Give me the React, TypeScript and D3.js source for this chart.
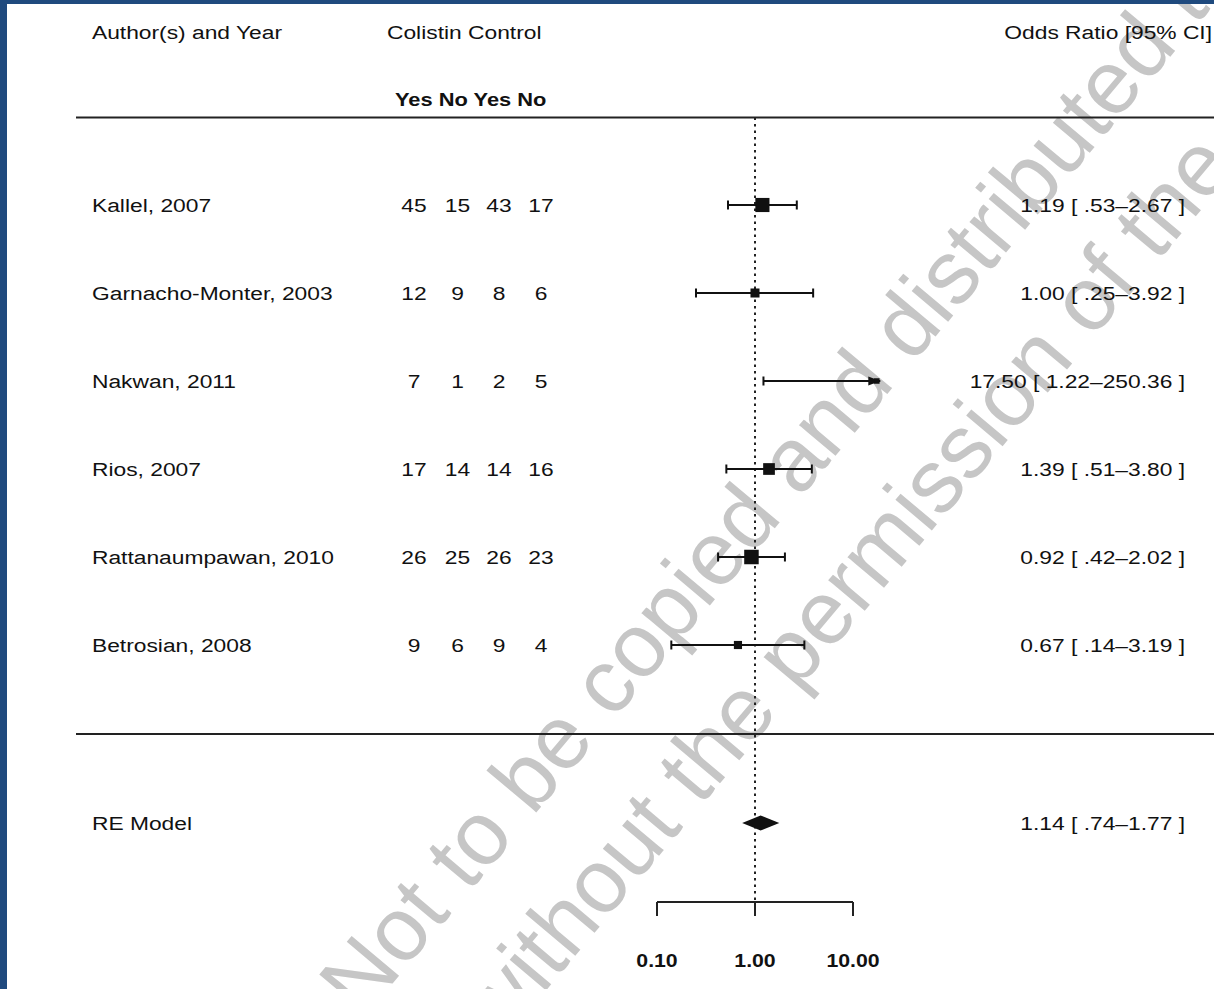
import React from "react";
import * as d3 from "d3";

// Study-level data: colistin vs control, outcome counts and odds ratios
const studies = [
  "Kallel, 2007",
  "Garnacho-Monter, 2003",
  "Nakwan, 2011",
  "Rios, 2007",
  "Rattanaumpawan, 2010",
  "Betrosian, 2008",
];
const colistinYes = [45, 12, 7, 17, 26, 9];
const colistinNo = [15, 9, 1, 14, 25, 6];
const controlYes = [43, 8, 2, 14, 26, 9];
const controlNo = [17, 6, 5, 16, 23, 4];
const oddsRatio = [1.19, 1.0, 17.5, 1.39, 0.92, 0.67];
const ciLower = [0.53, 0.25, 1.22, 0.51, 0.42, 0.14];
const ciUpper = [2.67, 3.92, 250.36, 3.8, 2.02, 3.19];

// Random-effects pooled estimate
const pooledLabel = "RE Model";
const pooledEstimate = 1.14;
const pooledLower = 0.74;
const pooledUpper = 1.77;

// Axis
const axisTicks = [0.1, 1, 10];
const axisTickLabels = ["0.10", "1.00", "10.00"];
const countHeaders = ["Yes", "No", "Yes", "No"];
const ciDrawMax = 19; // intervals beyond this are truncated with an arrow

const W = 1214;
const H = 989;
const FONT = "'Liberation Sans', Arial, Helvetica, sans-serif";
const FS = 19;
const SX = 1.2;

function T({ x, y, anchor = "start", weight = 400, size = FS, sx = SX, fill = "#111", children }: any) {
  return (
    <text
      transform={`translate(${x},${y}) scale(${sx},1)`}
      textAnchor={anchor}
      fontWeight={weight}
      fontSize={size}
      fontFamily={FONT}
      fill={fill}
    >
      {children}
    </text>
  );
}

const fmtEst = d3.format(".2f");
const fmtBound = (v: number) => d3.format(".2f")(v).replace(/^0\./, ".");

export default function App() {
  const x = d3.scaleLog().domain([0.1, 10]).range([657, 853]);
  const y = d3.scaleLinear().domain([0, studies.length - 1]).range([205, 645]);
  const yPooled = 823;
  const yTopRule = 117.5;
  const yMidRule = 734;
  const yAxis = 902;

  // square size from inverse standard error (derived from the CI)
  const z = 1.959964;
  const invSe = oddsRatio.map((_, i) => (2 * z) / (Math.log(ciUpper[i]) - Math.log(ciLower[i])));
  const wMin = d3.min(invSe) as number;
  const wMax = d3.max(invSe) as number;
  const size = d3.scaleLinear().domain([wMin, wMax]).range([5.5, 14.5]);

  const countCols = [414, 457.5, 499, 541];
  const countSeries = [colistinYes, colistinNo, controlYes, controlNo];
  const annX = 1185;
  const ink = "#111";
  const xMaxPx = x(ciDrawMax);

  return (
    <svg
      width={W}
      height={H}
      viewBox={`0 0 ${W} ${H}`}
      style={{ position: "absolute", left: 0, top: 0, background: "#fff" }}
    >
      <rect x={0} y={0} width={W} height={H} fill="#fff" />

      {/* diagonal notice in the background */}
      <g transform="translate(362,1020) rotate(-50)" fill="#c6c6c6" fontFamily={FONT} fontSize={90}>
        <text x={0} y={0}>Not to be copied and distributed to</text>
        <text x={70} y={122}>without the permission of the</text>
      </g>

      {/* frame */}
      <rect x={0} y={0} width={7} height={H} fill="#1f4a7e" />
      <rect x={0} y={0} width={W} height={4} fill="#1f4a7e" />

      {/* headers */}
      <T x={92} y={39}>Author(s) and Year</T>
      <T x={387} y={39}>Colistin Control</T>
      <T x={1212} y={39} anchor="end">Odds Ratio [95% CI]</T>
      <T x={395} y={105.5} weight={700} sx={1.15}>{countHeaders.join(" ")}</T>

      {/* rules */}
      <line x1={76} x2={W} y1={yTopRule} y2={yTopRule} stroke="#222" strokeWidth={2} />
      <line x1={76} x2={W} y1={yMidRule} y2={yMidRule} stroke="#222" strokeWidth={2} />

      {/* reference line at OR = 1 */}
      <line
        x1={x(1)}
        x2={x(1)}
        y1={yTopRule}
        y2={yAxis}
        stroke="#222"
        strokeWidth={2}
        strokeDasharray="2.5 4"
      />

      {/* study rows */}
      {studies.map((s, i) => {
        const yy = y(i);
        const lo = x(ciLower[i]);
        const hiVal = Math.min(ciUpper[i], ciDrawMax);
        const hi = x(hiVal);
        const truncated = ciUpper[i] > ciDrawMax;
        const sz = size(invSe[i]);
        const cx = x(oddsRatio[i]);
        return (
          <g key={s}>
            <T x={92} y={yy + 7}>{s}</T>
            {countSeries.map((arr, c) => (
              <T key={c} x={countCols[c]} y={yy + 7} anchor="middle">{arr[i]}</T>
            ))}
            <T x={annX} y={yy + 7} anchor="end">
              {`${fmtEst(oddsRatio[i])} [ ${fmtBound(ciLower[i])}\u2013${fmtBound(ciUpper[i])} ]`}
            </T>
            <line x1={lo} x2={hi} y1={yy} y2={yy} stroke={ink} strokeWidth={2.2} />
            <line x1={lo} x2={lo} y1={yy - 4.5} y2={yy + 4.5} stroke={ink} strokeWidth={2} />
            {truncated ? (
              <path d={`M${hi - 12},${yy - 4.5} L${hi},${yy} L${hi - 12},${yy + 4.5} Z`} fill={ink} />
            ) : (
              <line x1={hi} x2={hi} y1={yy - 4.5} y2={yy + 4.5} stroke={ink} strokeWidth={2} />
            )}
            {cx <= xMaxPx && (
              <rect x={cx - sz / 2} y={yy - sz / 2} width={sz} height={sz} fill={ink} />
            )}
          </g>
        );
      })}

      {/* pooled estimate */}
      <T x={92} y={yPooled + 7}>{pooledLabel}</T>
      <T x={annX} y={yPooled + 7} anchor="end">
        {`${fmtEst(pooledEstimate)} [ ${fmtBound(pooledLower)}\u2013${fmtBound(pooledUpper)} ]`}
      </T>
      <path
        d={`M${x(pooledLower)},${yPooled} L${x(pooledEstimate)},${yPooled - 7.5} L${x(pooledUpper)},${yPooled} L${x(pooledEstimate)},${yPooled + 7.5} Z`}
        fill={ink}
      />

      {/* x axis */}
      <line x1={x(axisTicks[0])} x2={x(axisTicks[axisTicks.length - 1])} y1={yAxis} y2={yAxis} stroke="#222" strokeWidth={2} />
      {axisTicks.map((t, i) => (
        <g key={t}>
          <line x1={x(t)} x2={x(t)} y1={yAxis} y2={yAxis + 14} stroke="#222" strokeWidth={2} />
          <T x={x(t)} y={967} anchor="middle" weight={700} sx={1.12}>{axisTickLabels[i]}</T>
        </g>
      ))}
    </svg>
  );
}
